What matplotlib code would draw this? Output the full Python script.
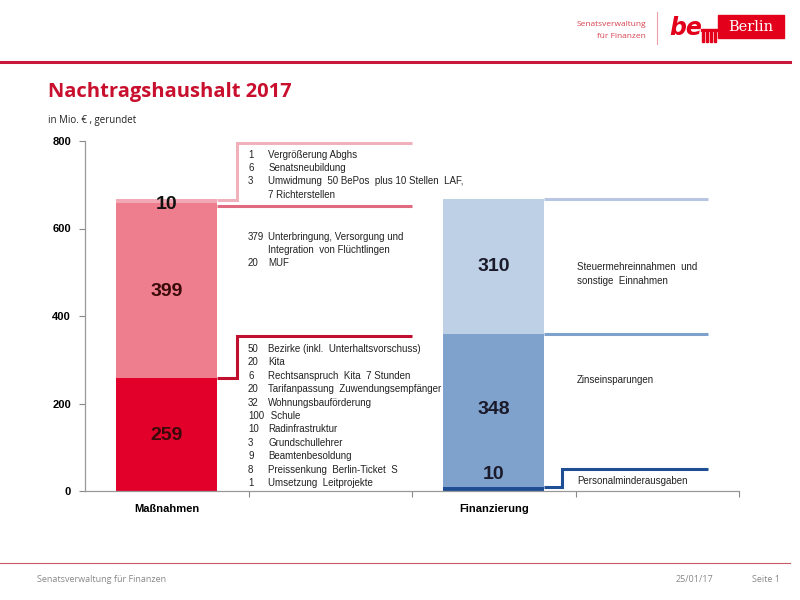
import matplotlib
matplotlib.use("Agg")
import matplotlib.pyplot as plt
from matplotlib.patches import Rectangle
import numpy as np

# ---------------- data ----------------
categories = ["Maßnahmen", "", "Finanzierung", ""]
massnahmen_vals = [259, 399, 10]
finanz_vals = [10, 348, 310]
yticks = [0, 200, 400, 600, 800]

block_top = [("1", "Vergrößerung Abghs"),
             ("6", "Senatsneubildung"),
             ("3", "Umwidmung  50 BePos  plus 10 Stellen  LAF,"),
             ("", "7 Richterstellen")]
block_mid = [("379", "Unterbringung, Versorgung und"),
             ("", "Integration  von Flüchtlingen"),
             ("20", "MUF")]
block_low = [("50", "Bezirke (inkl.  Unterhaltsvorschuss)"),
             ("20", "Kita"),
             ("6", "Rechtsanspruch  Kita  7 Stunden"),
             ("20", "Tarifanpassung  Zuwendungsempfänger"),
             ("32", "Wohnungsbauförderung"),
             ("100", " Schule"),
             ("10", "Radinfrastruktur"),
             ("3", "Grundschullehrer"),
             ("9", "Beamtenbesoldung"),
             ("8", "Preissenkung  Berlin-Ticket  S"),
             ("1", "Umsetzung  Leitprojekte")]
fin_labels = ["Personalminderausgaben", "Zinseinsparungen",
              "Steuermehreinnahmen  und\nsonstige  Einnahmen"]

# ---------------- style ----------------
red_cols = ["#E2002B", "#EE7D8D", "#F3A9B5"]
red_lines = ["#C0102E", "#E06B80", "#F0B0BC"]
blue_cols = ["#1E4E93", "#7FA2CC", "#BDD0E5"]
blue_lines = ["#1E4E93", "#7FA2CC", "#B7C6E2"]
bracket_red = [355, None, 795]   # elevated levels of stepped brackets
bracket_blue = [50, None, None]

fig = plt.figure(figsize=(8, 6), dpi=100)
W, H = 800, 600
ax = fig.add_axes([85 / W, 1 - 491 / H, (739 - 85) / W, (491 - 141) / H])

bw = 0.62
x_m, x_f = 0, 2
vfam = "Liberation Sans"

def stack(x, vals, cols):
    bottom = 0
    tops = []
    for v, c in zip(vals, cols):
        ax.bar(x, v, bw, bottom=bottom, color=c, linewidth=0, zorder=2)
        bottom += v
        tops.append(bottom)
    return tops

tops_m = stack(x_m, massnahmen_vals, red_cols)
tops_f = stack(x_f, finanz_vals, blue_cols)

# value labels
lab_fs = 14
def vlabel(x, y, s, col):
    ax.text(x, y, s, ha="center", va="center", fontsize=lab_fs, fontweight="bold",
            color=col, family=vfam, zorder=4)

vlabel(x_m, massnahmen_vals[0] / 2 - 3, str(massnahmen_vals[0]), "#3a0a0a")
vlabel(x_m, massnahmen_vals[0] + massnahmen_vals[1] / 2 - 3, str(massnahmen_vals[1]), "#3a0a0a")
vlabel(x_m, tops_m[2] - 14, str(massnahmen_vals[2]), "#111111")
vlabel(x_f, 38, str(finanz_vals[0]), "#1a1a2a")
vlabel(x_f, finanz_vals[0] + finanz_vals[1] / 2 + 3, str(finanz_vals[1]), "#1a1a2a")
vlabel(x_f, tops_f[1] + finanz_vals[2] / 2, str(finanz_vals[2]), "#1a1a2a")

# connector lines
def bracket(x0, top, level, xstep, xend, color, lw):
    if level is None:
        ax.plot([x0, xend], [top, top], color=color, lw=lw, zorder=3,
                solid_capstyle="butt")
    else:
        ax.plot([x0, xstep, xstep, xend], [top, top, level, level], color=color,
                lw=lw, zorder=3, solid_joinstyle="miter", solid_capstyle="butt")

red_tops_for_lines = [tops_m[0], tops_m[1] - 6, tops_m[2] - 3]
for t, lvl, c in zip(red_tops_for_lines, bracket_red, red_lines):
    bracket(x_m + bw / 2, t, lvl, 0.43, 1.5, c, 2.2)
for t, lvl, c in zip(tops_f, bracket_blue, blue_lines):
    bracket(x_f + bw / 2, t, lvl, 2.42, 3.31, c, 2.2)

# text blocks
tfs = 7
tfam = "Liberation Sans"
def block(items, y0, dy, xn=0.497, xl=0.62):
    for i, (n, t) in enumerate(items):
        y = y0 - i * dy
        if n:
            ax.text(xn, y, n, fontsize=tfs, family=tfam, va="center", ha="left", color="#222222")
        ax.text(xl, y, t, fontsize=tfs, family=tfam, va="center", ha="left", color="#222222")

dy = 13.2 / 0.4375
block(block_top, (491 - 155) / 0.4375, dy)
block(block_mid, (491 - 237) / 0.4375, dy, xl=0.62)
block(block_low, (491 - 349) / 0.4375, 13.4 / 0.4375)

xf_txt = 2.51
ax.text(xf_txt, (491 - 274) / 0.4375, fin_labels[2], fontsize=tfs, family=tfam, va="center",
        ha="left", color="#222222", linespacing=1.45)
ax.text(xf_txt, (491 - 380) / 0.4375, fin_labels[1], fontsize=tfs, family=tfam, va="center",
        ha="left", color="#222222")
ax.text(xf_txt, (491 - 481) / 0.4375, fin_labels[0], fontsize=tfs, family=tfam, va="center",
        ha="left", color="#222222")

# axes styling
ax.set_xlim(-0.5, 3.5)
ax.set_ylim(0, 800)
ax.set_yticks(yticks)
ax.set_yticklabels([str(v) for v in yticks], fontsize=8, fontweight="bold", family="Liberation Sans")
ax.set_xticks([0.5, 1.5, 2.5, 3.5])
ax.set_xticklabels([])
ax.set_xticks([0, 1, 2, 3], minor=True)
ax.set_xticklabels(categories, minor=True, fontsize=8, fontweight="bold", family="Liberation Sans")
ax.tick_params(axis="x", which="minor", length=0, pad=9)
ax.tick_params(axis="x", which="major", length=4, color="#888888", direction="out")
ax.tick_params(axis="y", length=4, color="#888888", pad=6)
for s in ["top", "right"]:
    ax.spines[s].set_visible(False)
for s in ["left", "bottom"]:
    ax.spines[s].set_color("#999999")
    ax.spines[s].set_linewidth(0.9)

# header / footer
fig.add_artist(plt.Line2D([0, 790 / W], [1 - 62 / H] * 2, color="#C8173A", lw=2.2,
                          transform=fig.transFigure))
fig.add_artist(plt.Line2D([0, 790 / W], [1 - 563 / H] * 2, color="#C85A6A", lw=0.8,
                          transform=fig.transFigure))
fig.text(48 / W, 1 - 92 / H, "Nachtragshaushalt 2017", fontsize=14.5, fontweight="bold",
         color="#C8102E", family="Open Sans", va="center")
fig.text(48 / W, 1 - 121 / H, "in Mio. € , gerundet", fontsize=7, color="#222222",
         family="Open Sans", va="center")
fig.text(37 / W, 1 - 580 / H, "Senatsverwaltung für Finanzen", fontsize=6.5, color="#888888",
         family="Open Sans", va="center")
fig.text(676 / W, 1 - 580 / H, "25/01/17", fontsize=6.5, color="#888888",
         family="Open Sans", va="center")
fig.text(752 / W, 1 - 580 / H, "Seite 1", fontsize=6.5, color="#888888",
         family="Open Sans", va="center")

# logo
fig.text(646 / W, 1 - 24 / H, "Senatsverwaltung", fontsize=6, color="#D8414F",
         family="Open Sans", ha="right", va="center")
fig.text(646 / W, 1 - 36 / H, "für Finanzen", fontsize=6, color="#D8414F",
         family="Open Sans", ha="right", va="center")
fig.add_artist(plt.Line2D([657 / W, 657 / W], [1 - 12 / H, 1 - 44 / H], color="#E8A0A8",
                          lw=0.8, transform=fig.transFigure))
fig.text(669 / W, 1 - 28 / H, "be", fontsize=17, fontweight="bold", style="italic",
         color="#E2001A", family="DejaVu Sans", ha="left", va="center")
for i in range(4):
    fig.add_artist(Rectangle(((702 + i * 4) / W, 1 - 42 / H), 2 / W, 10 / H,
                             color="#E2001A", transform=fig.transFigure))
fig.add_artist(Rectangle((701 / W, 1 - 31 / H), 17 / W, 2 / H, color="#E2001A",
                         transform=fig.transFigure))
fig.add_artist(Rectangle((718 / W, 1 - 38 / H), 66 / W, 23 / H, color="#E2001A",
                         transform=fig.transFigure))
fig.text(751 / W, 1 - 27 / H, "Berlin", fontsize=10.5, color="white",
         family="DejaVu Serif", ha="center", va="center")

fig.savefig("out.png", dpi=100)
